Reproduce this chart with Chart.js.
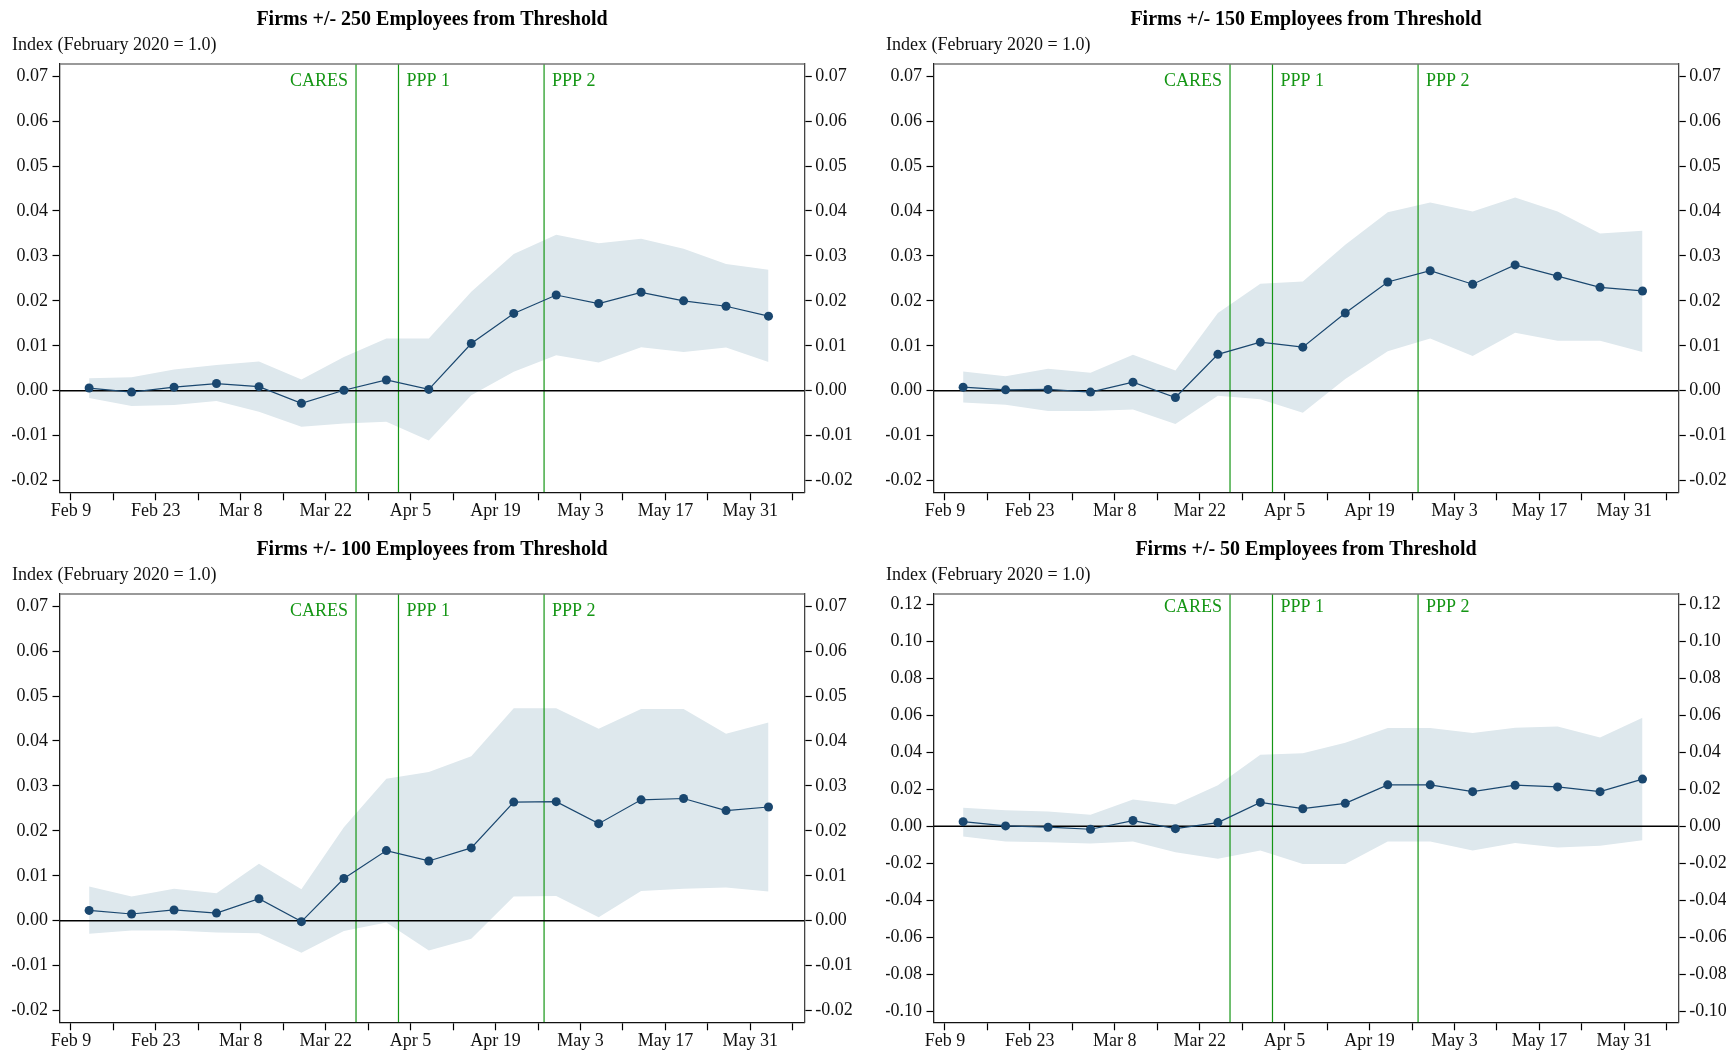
<!DOCTYPE html>
<html>
<head>
<meta charset="utf-8">
<script src="https://cdn.jsdelivr.net/npm/chart.js@4.4.1/dist/chart.umd.min.js"></script>
<style>
  html, body { margin: 0; padding: 0; background: #fff; overflow: hidden; }
  canvas { position: absolute; }
</style>
</head>
<body>
<canvas id="c250" width="864" height="530" style="left:0;top:0"></canvas>
<canvas id="c150" width="855" height="530" style="left:874px;top:0"></canvas>
<canvas id="c100" width="864" height="520" style="left:0;top:530px"></canvas>
<canvas id="c50" width="855" height="520" style="left:874px;top:530px"></canvas>
<script>
// Dates are days since Feb 9, 2020. Weekly estimates fall on Wednesdays.
const pointDays = [3, 10, 17, 24, 31, 38, 45, 52, 59, 66, 73, 80, 87, 94, 101, 108, 115];

const est250 = [0.0006, -0.0003, 0.0008, 0.0016, 0.0009, -0.0028, 0.0001, 0.0024, 0.0003, 0.0105, 0.0172, 0.0213, 0.0194, 0.0219, 0.0200, 0.0188, 0.0166];
const hi250  = [0.0028, 0.0030, 0.0047, 0.0057, 0.0065, 0.0025, 0.0075, 0.0116, 0.0116, 0.0220, 0.0304, 0.0347, 0.0328, 0.0338, 0.0316, 0.0282, 0.0269];
const lo250  = [-0.0016, -0.0034, -0.0032, -0.0023, -0.0047, -0.0080, -0.0073, -0.0069, -0.0111, -0.0010, 0.0042, 0.0079, 0.0063, 0.0097, 0.0086, 0.0096, 0.0064];

const est150 = [0.0008, 0.0002, 0.0003, -0.0003, 0.0019, -0.0015, 0.0081, 0.0108, 0.0097, 0.0173, 0.0242, 0.0267, 0.0237, 0.0280, 0.0255, 0.0230, 0.0222];
const hi150  = [0.0043, 0.0032, 0.0049, 0.0040, 0.0080, 0.0045, 0.0173, 0.0238, 0.0243, 0.0325, 0.0397, 0.0419, 0.0399, 0.0430, 0.0399, 0.0350, 0.0356];
const lo150  = [-0.0026, -0.0031, -0.0045, -0.0045, -0.0042, -0.0074, -0.0011, -0.0019, -0.0049, 0.0026, 0.0088, 0.0116, 0.0077, 0.0129, 0.0111, 0.0111, 0.0086];

const est100 = [0.0023, 0.0015, 0.0024, 0.0017, 0.0049, -0.0002, 0.0094, 0.0156, 0.0133, 0.0162, 0.0264, 0.0265, 0.0216, 0.0269, 0.0272, 0.0245, 0.0253];
const hi100  = [0.0076, 0.0054, 0.0071, 0.0061, 0.0127, 0.0070, 0.0208, 0.0316, 0.0331, 0.0366, 0.0473, 0.0473, 0.0427, 0.0471, 0.0471, 0.0416, 0.0441];
const lo100  = [-0.0029, -0.0022, -0.0022, -0.0026, -0.0028, -0.0071, -0.0023, -0.0004, -0.0066, -0.0040, 0.0054, 0.0055, 0.0008, 0.0066, 0.0071, 0.0074, 0.0065];

const est50 = [0.0025, 0.0002, -0.0005, -0.0016, 0.0031, -0.0013, 0.0020, 0.0129, 0.0095, 0.0124, 0.0224, 0.0224, 0.0187, 0.0222, 0.0213, 0.0187, 0.0255];
const hi50  = [0.0100, 0.0087, 0.0080, 0.0062, 0.0145, 0.0118, 0.0222, 0.0387, 0.0395, 0.0451, 0.0531, 0.0531, 0.0504, 0.0533, 0.0540, 0.0480, 0.0587];
const lo50  = [-0.0055, -0.0082, -0.0087, -0.0093, -0.0082, -0.0140, -0.0176, -0.0131, -0.0204, -0.0204, -0.0082, -0.0082, -0.0131, -0.0091, -0.0115, -0.0105, -0.0076];

// x axis: a tick every week, a label every two weeks
const tickDays = [0, 7, 14, 21, 28, 35, 42, 49, 56, 63, 70, 77, 84, 91, 98, 105, 112, 119];
const labelDays = [0, 14, 28, 42, 56, 70, 84, 98, 112];
const labelNames = ['Feb 9', 'Feb 23', 'Mar 8', 'Mar 22', 'Apr 5', 'Apr 19', 'May 3', 'May 17', 'May 31'];
const xMin = -1.8, xMax = 120.9;

// policy dates: CARES Mar 27, PPP 1 Apr 3, PPP 2 Apr 27
const eventDays = [47, 54, 78];
const eventNames = ['CARES', 'PPP 1', 'PPP 2'];
const eventAlign = ['right', 'left', 'left'];

const yTicksNarrow = [-0.02, -0.01, 0.00, 0.01, 0.02, 0.03, 0.04, 0.05, 0.06, 0.07];
const yTicksWide = [-0.10, -0.08, -0.06, -0.04, -0.02, 0.00, 0.02, 0.04, 0.06, 0.08, 0.10, 0.12];

const FONT = '"Liberation Serif", "Times New Roman", serif';
const NAVY = '#1a476f';
const GREEN = '#159615';
const BAND = '#dee8ed';

const frameTop = {
  id: 'frameTop',
  afterDraw(chart) {
    const a = chart.chartArea, ctx = chart.ctx;
    ctx.save();
    ctx.strokeStyle = '#777';
    ctx.lineWidth = 1.3;
    ctx.beginPath();
    ctx.moveTo(a.left, a.top);
    ctx.lineTo(a.right, a.top);
    ctx.stroke();
    ctx.restore();
  }
};

const eventLabels = {
  id: 'eventLabels',
  afterDatasetsDraw(chart, args, opts) {
    const ctx = chart.ctx;
    const x = chart.scales.x, y = chart.scales.y;
    ctx.save();
    ctx.font = '18px ' + FONT;
    ctx.fillStyle = GREEN;
    ctx.textBaseline = 'middle';
    eventDays.forEach((d, i) => {
      const px = x.getPixelForValue(d);
      ctx.textAlign = eventAlign[i];
      ctx.fillText(eventNames[i], px + (eventAlign[i] === 'right' ? -8 : 8), y.getPixelForValue(opts.labelY) + 1);
    });
    ctx.restore();
  }
};

function pts(xs, ys) {
  return ys.map((v, i) => ({ x: xs[i], y: v }));
}

function makePanel(id, title, est, hi, lo, yTicks, yMin, yMax, labelY, padRight) {
  const canvas = document.getElementById(id);
  const xHeight = canvas.height - 492.3;

  const datasets = [
    { data: pts(pointDays, est), borderColor: NAVY, borderWidth: 1.2, pointRadius: 4.5,
      pointBackgroundColor: NAVY, pointBorderWidth: 0, order: 0 },
    { data: [{ x: xMin, y: 0 }, { x: xMax, y: 0 }], borderColor: '#000', borderWidth: 1.4,
      pointRadius: 0, order: 1 }
  ];
  eventDays.forEach(d => {
    datasets.push({ data: [{ x: d, y: yMin }, { x: d, y: yMax }], borderColor: GREEN,
      borderWidth: 1.2, pointRadius: 0, order: 2 });
  });
  datasets.push({ data: pts(pointDays, hi), borderWidth: 0, pointRadius: 0,
    backgroundColor: BAND, fill: '+1', order: 4 });
  datasets.push({ data: pts(pointDays, lo), borderWidth: 0, pointRadius: 0,
    fill: false, order: 5 });

  const yAxis = (pos, width, pad, borderColor) => ({
    type: 'linear', position: pos, min: yMin, max: yMax,
    afterBuildTicks: s => { s.ticks = yTicks.map(v => ({ value: v })); },
    afterFit: s => { s.width = width; },
    ticks: { callback: v => v.toFixed(2), padding: pad, color: '#111',
      font: { family: FONT, size: 18 } },
    grid: { drawOnChartArea: false, tickLength: 7.5, tickColor: '#000', tickWidth: 1.2 },
    border: { color: borderColor, width: 1.3 }
  });

  new Chart(canvas, {
    type: 'line',
    data: { datasets },
    options: {
      responsive: false,
      animation: false,
      events: [],
      layout: { padding: { left: 12, right: padRight, top: 0, bottom: 0 } },
      scales: {
        x: {
          type: 'linear', min: xMin, max: xMax,
          afterBuildTicks: s => { s.ticks = tickDays.map(v => ({ value: v })); },
          afterFit: s => { s.height = xHeight; },
          ticks: {
            autoSkip: false, maxRotation: 0, padding: 0, color: '#111',
            font: { family: FONT, size: 18 },
            callback: v => { const i = labelDays.indexOf(v); return i >= 0 ? labelNames[i] : ''; }
          },
          grid: { drawOnChartArea: false, tickLength: 8, tickColor: '#000', tickWidth: 1.2 },
          border: { color: '#111', width: 1.3 }
        },
        y: yAxis('left', 48, 4.5, '#222'),
        y2: yAxis('right', 47.7, 3.5, '#444')
      },
      plugins: {
        legend: { display: false },
        tooltip: { enabled: false },
        title: {
          display: true, text: title, color: '#000',
          font: { family: FONT, size: 20, weight: 'bold' },
          padding: { top: 8.25, bottom: 1.85 }
        },
        subtitle: {
          display: true, text: 'Index (February 2020 = 1.0)', align: 'start', color: '#111',
          font: { family: FONT, size: 18 },
          padding: { top: 0, bottom: 8.3 }
        },
        eventLabels: { labelY }
      }
    },
    plugins: [frameTop, eventLabels]
  });
}

makePanel('c250', 'Firms +/- 250 Employees from Threshold', est250, hi250, lo250, yTicksNarrow, -0.0226, 0.0727, 0.069, 12);
makePanel('c150', 'Firms +/- 150 Employees from Threshold', est150, hi150, lo150, yTicksNarrow, -0.0226, 0.0727, 0.069, 3);
makePanel('c100', 'Firms +/- 100 Employees from Threshold', est100, hi100, lo100, yTicksNarrow, -0.0226, 0.0727, 0.069, 12);
makePanel('c50', 'Firms +/- 50 Employees from Threshold', est50, hi50, lo50, yTicksWide, -0.106, 0.1256, 0.119, 3);
</script>
</body>
</html>
